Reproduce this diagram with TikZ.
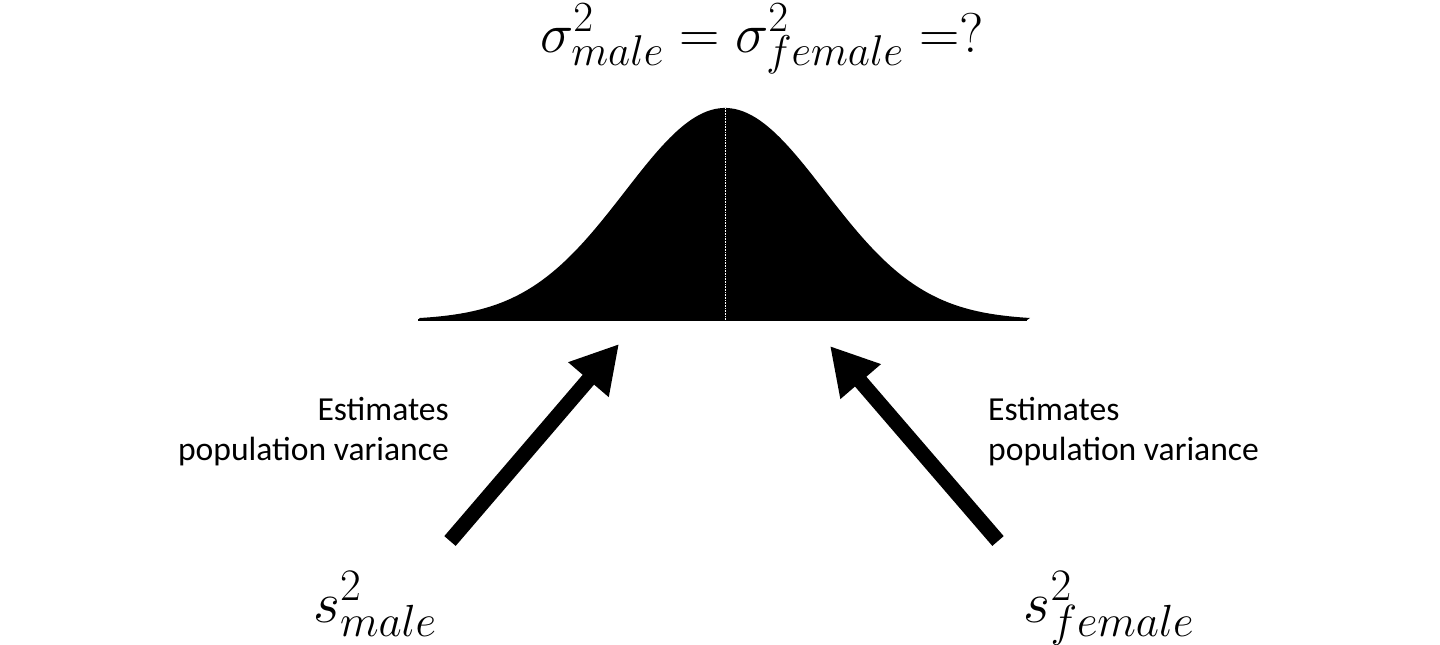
\RequirePackage{fix-cm}
\documentclass[tikz,border=0pt]{standalone}
\usepackage[no-math]{fontspec}
\setmainfont{Carlito}
\usetikzlibrary{arrows.meta}
\DeclareMathSizes{56}{56}{43}{32}
\DeclareMathSizes{58}{58}{45}{33}
\newlength{\basisvariance}
\setlength{\basisvariance}{1pt}

\tikzset{
    estimate/.style={line width=15\basisvariance, -{Triangle[length=47pt,width=50pt]}},
    caption/.style={font=\fontsize{33.6}{40}\selectfont, inner sep=0pt},
    bigmath/.style={font=\fontsize{56}{66}\selectfont, inner sep=0pt},
    smallmath/.style={font=\fontsize{58}{68}\selectfont, inner sep=0pt},
}

\begin{document}
\begin{tikzpicture}[x=\basisvariance, y=\basisvariance]
    \useasboundingbox (0,0) rectangle (1440,-645);

    % bell curve of the population
    \coordinate (bellleft) at (418,-320);
    \coordinate (bellright) at (1027,-320);
    \coordinate (bellpeak) at (725,-108);
    \coordinate (bellfoot) at (725,-320);
    \fill (bellleft) -- plot[domain=-305:305, samples=150] ({725+\x},{-320+212*exp(-0.5*(\x/100)^2)}) -- (bellright) -- cycle;
    \draw[line width=2.5\basisvariance] (bellleft) -- (bellright);
    \draw[white, line width=0.6\basisvariance, densely dotted] (bellpeak) -- (bellfoot);

    \draw (762,-52) node[bigmath, anchor=base] (popvar) {$\sigma^2_{male} = \sigma^2_{female} =?$};

    % samples
    \draw (375,-622) node[smallmath, anchor=base] (smale) {$s^2_{male}$};
    \draw (1109,-622) node[smallmath, anchor=base] (sfemale) {$s^2_{female}$};

    \coordinate (maletail) at (450,-541);
    \coordinate (maletip) at (619,-344);
    \coordinate (femaletail) at (998,-541);
    \coordinate (femaletip) at (830,-346);
    \draw[estimate] (maletail) -- (maletip);
    \draw[estimate] (femaletail) -- (femaletip);

    \draw (449,-432) node[caption, anchor=east, align=right] (estleft) {Estimates\\population variance};
    \draw (988,-432) node[caption, anchor=west, align=left] (estright) {Estimates\\population variance};
\end{tikzpicture}
\end{document}
